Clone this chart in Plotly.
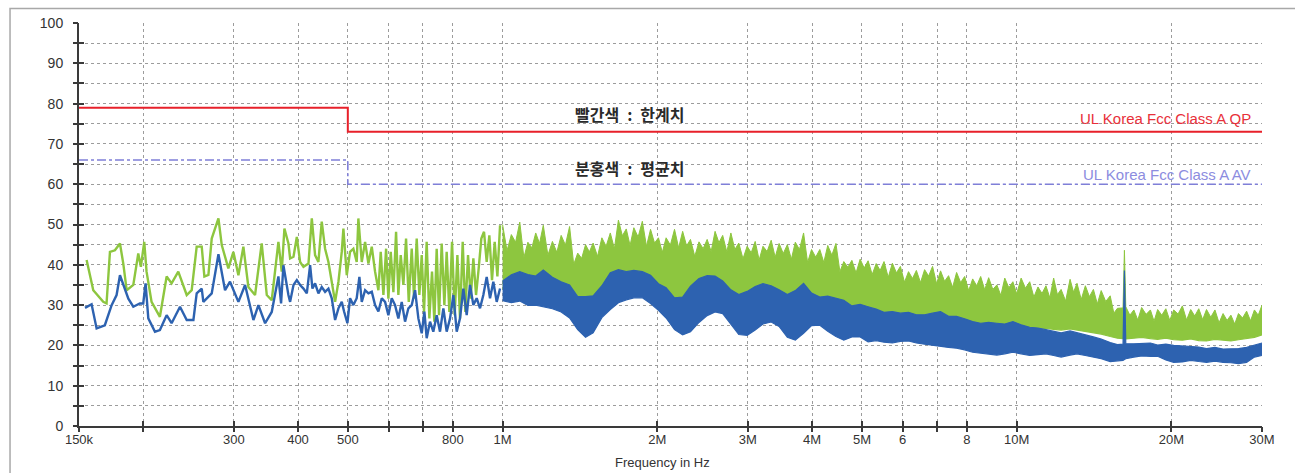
import plotly.graph_objects as go

# ---------------- data ----------------
# Low-frequency part of the sweep, drawn as individual lines (kHz, dBuV)
green_line_khz = [155.2, 159.9, 167.2, 169.7, 172.3, 176.2, 180.2, 182.9, 185.7, 191.3,
                  195.6, 197.9, 200.9, 203.0, 207.6, 215.5, 222.1, 227.1, 234.0, 243.0,
                  248.5, 254.1, 259.9, 263.0, 267.8, 271.8, 280.1, 284.3, 292.8, 299.5,
                  306.3, 313.2, 320.3, 330.0, 340.0, 347.8, 355.6, 366.4, 371.9, 376.4,
                  383.2, 386.1, 392.0, 397.9, 403.8, 409.9, 419.2, 425.5, 431.8, 438.3,
                  444.9, 451.6, 458.4, 465.3, 472.3, 479.4, 486.6, 490.2, 497.6, 505.0,
                  512.6, 520.3, 524.2, 532.2, 540.2, 548.3, 556.6, 564.9, 573.4, 579.4,
                  586.4, 593.5, 599.6, 606.0, 613.2, 620.6, 627.0, 633.7, 641.3, 649.0,
                  656.9, 665.7, 672.7, 680.7, 688.8, 696.2, 703.4, 711.8, 720.4, 729.0,
                  736.7, 744.4, 752.3, 761.3, 770.5, 778.5, 787.9, 797.4, 807.0, 816.7,
                  826.4, 836.4, 846.4, 856.6, 866.9, 877.3, 887.9, 898.5, 909.2, 920.2,
                  931.3, 942.5, 953.8, 965.3, 977.0, 988.7]
green_line_db = [41.2, 33.7, 30.8, 30.4, 43.2, 43.6, 45.3, 40.3, 33.7, 35.0,
                 42.8, 39.5, 45.7, 38.3, 30.8, 27.1, 37.1, 35.4, 38.3, 32.5,
                 33.7, 44.5, 44.5, 37.1, 37.5, 46.5, 51.5, 44.9, 39.1, 43.2,
                 37.4, 44.5, 34.5, 32.5, 45.3, 32.5, 31.2, 45.7, 38.3, 49.0,
                 45.3, 41.6, 42.0, 46.9, 40.7, 39.5, 40.3, 51.5, 42.4, 40.7,
                 50.7, 44.0, 40.7, 35.4, 30.8, 35.8, 43.2, 49.0, 37.4, 43.2,
                 44.0, 40.7, 51.5, 40.7, 45.7, 40.3, 44.5, 38.3, 33.7, 43.2,
                 32.5, 44.0, 31.6, 43.2, 33.2, 48.2, 32.5, 42.4, 35.0, 46.5,
                 30.8, 44.0, 31.6, 46.5, 32.5, 42.4, 28.3, 45.7, 26.7, 38.3,
                 25.9, 44.0, 27.5, 45.3, 30.0, 43.2, 28.3, 45.7, 27.5, 42.4,
                 26.7, 45.7, 28.3, 42.4, 31.6, 41.6, 32.5, 39.1, 46.5, 48.2,
                 40.7, 47.3, 36.2, 45.7, 37.1, 49.8]

blue_line_khz = [154.1, 158.7, 162.3, 168.4, 173.6, 177.5, 180.2, 184.3, 187.1, 191.3,
                 197.0, 200.0, 202.1, 204.6, 210.8, 215.5, 222.1, 227.1, 235.8, 243.0,
                 250.4, 254.1, 259.9, 261.8, 271.8, 280.1, 288.5, 295.0, 306.3, 315.6,
                 327.6, 335.0, 345.2, 355.6, 366.4, 370.8, 374.7, 383.2, 386.1, 392.0,
                 397.9, 403.8, 409.9, 416.1, 422.3, 426.7, 431.8, 438.3, 444.9, 451.6,
                 458.4, 465.3, 472.3, 479.4, 486.6, 491.7, 499.1, 505.0, 512.6, 520.3,
                 526.6, 532.2, 540.2, 548.3, 556.6, 564.9, 573.4, 582.1, 590.8, 599.6,
                 608.7, 617.8, 627.0, 636.5, 646.1, 655.8, 665.7, 675.7, 685.8, 696.2,
                 704.5, 711.8, 722.5, 733.3, 744.4, 755.6, 767.0, 778.5, 790.3, 802.2,
                 814.3, 826.4, 838.9, 851.5, 864.3, 877.3, 890.5, 903.9, 917.4, 931.3,
                 945.3, 959.5, 974.0, 988.7]
blue_line_db = [29.3, 30.2, 24.2, 25.0, 30.0, 32.5, 37.4, 34.1, 31.6, 29.6,
                30.4, 30.4, 35.4, 26.7, 23.4, 23.8, 27.5, 25.5, 29.6, 26.3,
                26.3, 32.9, 34.1, 30.8, 32.9, 42.6, 33.7, 35.8, 30.8, 35.0,
                26.3, 30.0, 25.5, 28.3, 37.1, 30.4, 39.9, 32.5, 30.8, 35.0,
                36.2, 35.0, 34.1, 32.9, 39.9, 34.1, 35.4, 32.9, 34.5, 33.3,
                34.1, 31.7, 26.3, 29.2, 30.8, 28.4, 25.5, 31.7, 30.0, 31.7,
                37.0, 30.8, 33.7, 32.9, 33.3, 30.0, 28.4, 31.7, 30.8, 27.5,
                31.7, 30.0, 26.7, 30.8, 25.9, 29.2, 30.0, 33.7, 26.7, 23.0,
                28.4, 21.8, 25.9, 23.4, 27.5, 23.4, 29.2, 23.4, 26.7, 32.5,
                23.4, 26.7, 34.1, 27.5, 35.0, 30.0, 31.7, 29.2, 32.5, 37.0,
                31.7, 35.8, 30.8, 34.1]

# Dense part of the sweep (MHz): upper / lower envelopes of each trace
band_mhz = [1.00, 1.04, 1.08, 1.12, 1.16, 1.20, 1.25, 1.30, 1.35, 1.40,
            1.45, 1.50, 1.56, 1.62, 1.68, 1.74, 1.80, 1.87, 1.94, 2.01,
            2.08, 2.16, 2.24, 2.32, 2.41, 2.50, 2.59, 2.68, 2.78, 2.88,
            2.99, 3.10, 3.21, 3.33, 3.45, 3.58, 3.71, 3.85, 3.99, 4.14,
            4.29, 4.45, 4.61, 4.78, 4.96, 5.14, 5.33,
            5.52, 5.73, 5.94, 6.16, 6.38, 6.62, 6.86, 7.11, 7.37, 7.64,
            7.92, 8.21, 8.51, 8.82, 9.15, 9.48, 9.83, 10.2, 10.6, 11.0,
            11.4, 11.8, 12.2, 12.7, 13.1, 13.6, 14.1, 14.6, 15.2, 15.7,
            16.1, 16.2,
            16.3, 16.9, 17.5, 18.2, 18.8, 19.5, 20.2, 21.0, 21.8, 22.6,
            23.4, 24.3, 25.2, 26.1, 27.0, 28.0, 29.0, 30.0]
# green peaks (upper spikes) on the band grid
green_hi = [50.0, 47.5, 50.6, 45.6, 47.9, 49.8, 45.8, 47.3, 49.5, 42.9,
            45.0, 45.4, 46.7, 47.9, 51.1, 48.9, 49.2, 50.8, 48.8, 46.7,
            46.7, 48.8, 48.3, 46.3, 45.7, 46.3, 48.3, 47.3, 47.9, 45.4,
            44.6, 45.8, 44.6, 46.1, 45.3, 45.0, 45.6, 47.9, 43.8, 43.8,
            44.8, 45.3, 40.8, 41.1, 41.4, 41.0, 40.3,
            40.8, 40.4, 39.6, 38.3, 38.6, 38.8, 39.6, 38.5, 37.3, 38.1,
            37.1, 36.5, 37.1, 36.8, 35.0, 36.7, 35.8, 36.7, 35.8, 34.5,
            34.8, 36.7, 33.9, 36.4, 35.4, 34.8, 33.9, 33.6, 32.3, 29.2,
            29.3, 43.6,
            29.6, 28.8, 29.4, 28.8, 28.9, 29.1, 28.8, 29.8, 28.9, 29.1,
            28.9, 28.8, 27.9, 27.5, 27.9, 28.5, 28.8, 30.0]
# green dips of the upper edge between the spikes
green_dip_mhz = [1.02, 1.06, 1.10, 1.14, 1.18, 1.225, 1.275, 1.325, 1.375, 1.425,
                 1.475, 1.53, 1.59, 1.65, 1.71, 1.77, 1.835, 1.905, 1.975, 2.045,
                 2.12, 2.20, 2.28, 2.365, 2.455, 2.545, 2.635, 2.73, 2.83, 2.935,
                 3.045, 3.155, 3.27, 3.39, 3.515, 3.645, 3.78, 3.92, 4.065, 4.215,
                 4.37, 4.53, 4.695, 4.87, 5.05, 5.235, 5.425, 5.625, 5.835, 6.05,
                 6.27, 6.50, 6.74, 6.985, 7.24, 7.505, 7.78, 8.065, 8.36, 8.665,
                 8.985, 9.315, 9.655, 10.0, 10.4, 10.8, 11.2, 11.6, 12.0, 12.45,
                 12.9, 13.35, 13.85, 14.35, 14.9, 15.45,
                 16.6, 17.2, 17.85, 18.5, 19.15, 19.85, 20.6, 21.4, 22.2, 23.0,
                 23.85, 24.75, 25.65, 26.55, 27.5, 28.5, 29.5]
green_dip_db = [43.5, 45.6, 41.8, 44.2, 45.3, 42.4, 43.1, 44.9, 40.1, 41.6,
                43.2, 42.1, 44.6, 44.0, 47.2, 44.8, 46.9, 44.6, 45.4, 43.1,
                44.9, 44.2, 44.7, 42.1, 44.0, 43.3, 45.5, 43.2, 43.8, 41.5,
                43.0, 41.2, 43.3, 41.9, 42.8, 41.4, 43.8, 40.6, 41.9, 40.6,
                42.4, 38.3, 39.4, 38.0, 39.2, 37.6, 38.6, 36.9, 38.0, 35.7,
                36.6, 35.6, 37.2, 35.3, 35.9, 34.4, 35.6, 33.6, 34.8, 33.8,
                33.9, 32.4, 34.3, 32.8, 34.2, 32.0, 32.9, 31.8, 32.6, 31.0,
                33.2, 31.4, 32.1, 30.3, 30.9, 28.0,
                27.5, 26.3, 27.7, 26.0, 27.5, 26.2, 27.8, 26.3, 27.3, 26.4,
                27.0, 25.6, 26.2, 25.3, 26.8, 26.1, 27.5]
green_lo = [34.0, 35.5, 36.3, 35.6, 35.2, 36.7, 34.9, 33.8, 33.0, 30.1,
            30.1, 30.3, 32.8, 36.0, 36.8, 36.3, 36.6, 36.3, 35.4, 33.3,
            32.3, 29.8, 30.0, 32.7, 34.6, 35.3, 35.2, 34.0, 31.8, 30.6,
            31.4, 32.6, 33.3, 32.8, 31.8, 30.6, 31.6, 33.4, 31.0, 30.0,
            30.2, 29.6, 29.2, 27.8, 28.2, 27.6, 27.0,
            26.2, 26.4, 26.0, 26.2, 25.6, 25.6, 26.0, 26.4, 25.2, 25.2,
            24.6, 23.9, 23.5, 23.7, 23.5, 23.3, 23.9, 23.6, 23.8, 24.0,
            24.2, 24.0, 23.8, 24.1, 23.8, 23.6, 23.2, 22.8, 22.2, 21.8,
            21.7, 21.7,
            21.6, 21.8, 22.0, 21.7, 21.5, 21.8, 21.4, 21.3, 21.6, 21.2,
            21.1, 21.5, 21.2, 21.1, 21.4, 21.7, 22.0, 22.6]
blue_hi = [36.0, 37.5, 38.3, 37.6, 37.2, 38.7, 36.9, 35.8, 35.0, 32.1,
           32.1, 32.3, 34.8, 38.0, 38.8, 38.3, 38.6, 38.3, 37.4, 35.3,
           34.3, 31.8, 32.0, 34.7, 36.6, 37.3, 37.2, 36.0, 33.8, 32.6,
           33.4, 34.6, 35.3, 34.8, 33.8, 32.6, 33.6, 35.4, 33.0, 32.0,
           32.2, 31.6, 31.2, 29.8, 30.2, 29.6, 29.0,
           28.2, 28.4, 28.0, 28.2, 27.6, 27.6, 28.0, 28.4, 27.2, 27.2,
           26.6, 25.9, 25.5, 25.7, 25.5, 25.3, 25.9, 25.1, 24.5, 24.3,
           23.9, 23.4, 23.1, 23.6, 23.2, 22.7, 22.1, 21.6, 20.7, 20.2,
           20.3, 38.6,
           20.4, 20.4, 20.5, 20.6, 20.1, 20.3, 20.0, 19.8, 19.7, 19.6,
           19.2, 19.5, 19.1, 19.1, 19.2, 19.5, 20.0, 20.6]
blue_lo = [31.1, 30.6, 31.0, 29.9, 30.0, 29.6, 29.1, 28.3, 26.8, 23.9,
           22.0, 23.1, 26.9, 28.9, 30.6, 31.3, 31.8, 31.8, 30.4, 28.7,
           26.8, 23.9, 22.6, 23.4, 25.7, 27.4, 28.3, 27.9, 25.3, 22.7,
           22.5, 23.8, 25.3, 25.8, 24.7, 22.0, 21.3, 23.0, 24.9, 25.0,
           23.5, 22.2, 21.3, 22.1, 22.1, 20.9, 21.2,
           20.8, 20.6, 21.0, 21.1, 20.6, 20.3, 20.0, 19.8, 19.5, 19.3,
           18.9, 18.3, 18.1, 17.9, 17.6, 17.9, 18.3, 17.9, 17.5, 17.7,
           17.9, 17.5, 17.1, 17.6, 17.9, 17.5, 17.1, 16.7, 16.0, 16.1,
           16.3, 16.5,
           16.7, 17.1, 17.4, 17.3, 17.3, 16.4, 15.8, 15.9, 16.3, 16.0,
           15.8, 16.1, 15.8, 15.7, 15.5, 15.8, 17.1, 17.5]

# Limit lines (Hz, dBuV)
limit_hz = [150e3, 500e3, 30e6]
qp_limit_db = [79, 73, 73]
av_limit_db = [66, 60, 60]

# Axis ticks
x_tickvals = [150e3, 200e3, 300e3, 400e3, 500e3, 600e3, 700e3, 800e3, 1e6,
              2e6, 3e6, 4e6, 5e6, 6e6, 7e6, 8e6, 10e6, 20e6, 30e6]
x_ticktext = ["150k", "", "300", "400", "500", "", "", "800", "1M",
              "2M", "3M", "4M", "5M", "6", "", "8", "10M", "20M", "30M"]
y_tickvals = list(range(0, 101, 5))
y_ticktext = [str(v) if v % 10 == 0 else "" for v in y_tickvals]

# ---------------- styling ----------------
GREEN = "#8dc63f"
BLUE = "#2d62b0"
RED = "#e8202a"
LAV = "#7f7fd8"
AXIS = "#3a3a3a"
GRID = "#9c9c9c"
TXT = "#333333"

band_hz = [f * 1e6 for f in band_mhz]
green_top = sorted(list(zip(band_mhz, green_hi)) + list(zip(green_dip_mhz, green_dip_db)))
green_top_hz = [p[0] * 1e6 for p in green_top]
green_top_db = [p[1] for p in green_top]

fig = go.Figure()

# green (QP measurement)
fig.add_trace(go.Scatter(x=[f * 1e3 for f in green_line_khz], y=green_line_db, mode="lines",
                         line=dict(color=GREEN, width=2.4), showlegend=False, hoverinfo="skip"))
fig.add_trace(go.Scatter(x=band_hz, y=green_lo, mode="lines",
                         line=dict(color=GREEN, width=1.2), showlegend=False, hoverinfo="skip"))
fig.add_trace(go.Scatter(x=green_top_hz, y=green_top_db, mode="lines", fill="tonexty",
                         fillcolor=GREEN, line=dict(color=GREEN, width=1.0),
                         showlegend=False, hoverinfo="skip"))
# blue (AV measurement)
fig.add_trace(go.Scatter(x=[f * 1e3 for f in blue_line_khz], y=blue_line_db, mode="lines",
                         line=dict(color=BLUE, width=2.4), showlegend=False, hoverinfo="skip"))
fig.add_trace(go.Scatter(x=band_hz, y=blue_lo, mode="lines",
                         line=dict(color=BLUE, width=1.2), showlegend=False, hoverinfo="skip"))
fig.add_trace(go.Scatter(x=band_hz, y=blue_hi, mode="lines", fill="tonexty", fillcolor=BLUE,
                         line=dict(color=BLUE, width=1.2), showlegend=False, hoverinfo="skip"))
# limits
fig.add_trace(go.Scatter(x=limit_hz, y=qp_limit_db, mode="lines", line_shape="hv",
                         line=dict(color=RED, width=2), showlegend=False, hoverinfo="skip"))
fig.add_trace(go.Scatter(x=limit_hz, y=av_limit_db, mode="lines", line_shape="hv",
                         line=dict(color=LAV, width=1.6, dash="dashdot"), showlegend=False,
                         hoverinfo="skip"))
# empty trace to bring up the overlay axes (tick marks outside the plot)
fig.add_trace(go.Scatter(x=[], y=[], xaxis="x2", yaxis="y2", showlegend=False, hoverinfo="skip"))

xrange = [5.176091259, 7.477121255]
fig.update_layout(
    width=1295, height=473,
    margin=dict(l=79, r=33, t=23, b=47),
    paper_bgcolor="white", plot_bgcolor="white",
    font=dict(family="Liberation Sans, Arial, sans-serif", size=13, color=TXT),
    xaxis=dict(type="log", range=xrange, tickvals=x_tickvals, ticktext=x_ticktext,
               showgrid=True, gridcolor=GRID, griddash="3px,3px", gridwidth=1,
               showline=True, linecolor=AXIS, linewidth=2, zeroline=False,
               ticks="inside", ticklen=5, tickwidth=1.5, tickcolor=AXIS,
               tickfont=dict(size=13, color=TXT)),
    yaxis=dict(range=[0, 100], tickvals=y_tickvals, ticktext=y_ticktext,
               showgrid=True, gridcolor=GRID, griddash="3px,3px", gridwidth=1,
               showline=True, linecolor=AXIS, linewidth=2, zeroline=False,
               ticks="inside", ticklen=5, tickwidth=1.5, tickcolor=AXIS,
               ticklabelstandoff=11, tickfont=dict(size=14, color=TXT)),
    xaxis2=dict(type="log", range=xrange, tickvals=x_tickvals, overlaying="x", anchor="y2",
                side="bottom", ticks="outside", ticklen=5, tickwidth=1.5, tickcolor=AXIS,
                showticklabels=False, showgrid=False, showline=False, zeroline=False),
    yaxis2=dict(range=[0, 100], tickvals=y_tickvals, overlaying="y", anchor="x2", side="left",
                ticks="outside", ticklen=5, tickwidth=1.5, tickcolor=AXIS,
                showticklabels=False, showgrid=False, showline=False, zeroline=False),
    showlegend=False,
)

KFONT = dict(family="Noto Sans CJK KR", size=16, color="#2a2a2a", weight="bold")
SEP = "\u2002:\u2002"
ann = [
    dict(text="빨간색" + SEP + "한계치", x=0.466, y=0.775, xref="paper", yref="paper",
         xanchor="center", yanchor="middle", showarrow=False, font=KFONT),
    dict(text="분홍색" + SEP + "평균치", x=0.466, y=0.641, xref="paper", yref="paper",
         xanchor="center", yanchor="middle", showarrow=False, font=KFONT),
    dict(text="UL Korea Fcc Class A QP", x=0.9924, y=0.764, xref="paper", yref="paper",
         xanchor="right", yanchor="middle", showarrow=False,
         font=dict(size=15, color="#e8303a")),
    dict(text="UL Korea Fcc Class A AV", x=0.9924, y=0.624, xref="paper", yref="paper",
         xanchor="right", yanchor="middle", showarrow=False,
         font=dict(size=15, color="#8c8ce0")),
    dict(text="Frequency in Hz", x=0.493, y=-0.0906, xref="paper", yref="paper",
         xanchor="center", yanchor="middle", showarrow=False,
         font=dict(size=13, color=TXT)),
]
fig.update_layout(annotations=ann)

# outer frame of the chart image
fig.add_shape(type="rect", xref="paper", yref="paper", x0=-0.0583, x1=1.06, y0=-0.3, y1=1.036,
              line=dict(color="#a8a8a8", width=1.5), layer="below")

# the page's default body margin would push the 1295x473 figure out of the window
fig.write_html("out.html", config={"displayModeBar": False},
               post_script="document.body.style.margin='0px';"
                           "document.body.style.overflow='hidden';")
